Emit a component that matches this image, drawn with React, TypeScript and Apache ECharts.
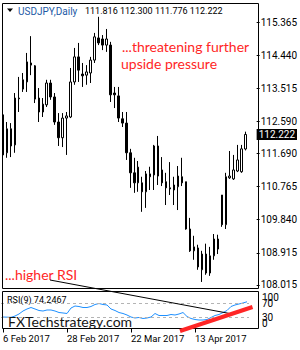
import React, { useEffect, useRef } from "react";
import * as echarts from "echarts";

const categories = [
  "6 Feb 2017", "7 Feb 2017", "8 Feb 2017", "9 Feb 2017", "10 Feb 2017",
  "13 Feb 2017", "14 Feb 2017", "15 Feb 2017", "16 Feb 2017", "17 Feb 2017",
  "20 Feb 2017", "21 Feb 2017", "22 Feb 2017", "23 Feb 2017", "24 Feb 2017",
  "27 Feb 2017", "28 Feb 2017",
  "1 Mar 2017", "2 Mar 2017", "3 Mar 2017", "6 Mar 2017", "7 Mar 2017",
  "8 Mar 2017", "9 Mar 2017", "10 Mar 2017", "13 Mar 2017", "14 Mar 2017",
  "15 Mar 2017", "16 Mar 2017", "17 Mar 2017", "20 Mar 2017", "21 Mar 2017",
  "22 Mar 2017", "23 Mar 2017", "24 Mar 2017", "27 Mar 2017", "28 Mar 2017",
  "29 Mar 2017", "30 Mar 2017", "31 Mar 2017",
  "3 Apr 2017", "4 Apr 2017", "5 Apr 2017", "6 Apr 2017", "7 Apr 2017",
  "10 Apr 2017", "11 Apr 2017", "12 Apr 2017", "13 Apr 2017", "14 Apr 2017",
  "17 Apr 2017", "18 Apr 2017", "19 Apr 2017", "20 Apr 2017", "21 Apr 2017",
  "24 Apr 2017", "25 Apr 2017", "26 Apr 2017", "27 Apr 2017", "28 Apr 2017",
  "1 May 2017", "2 May 2017",
];

const opens = [
  112.77, 111.71, 112.38, 111.93, 113.24, 113.49, 113.69, 114.22, 114.14, 113.24,
  112.85, 113.05, 113.66, 113.27, 112.57, 112.13, 112.68, 112.71, 113.69, 114.39,
  113.91, 113.88, 113.94, 114.3, 114.92, 114.89, 114.72, 114.72, 113.38, 113.3,
  112.66, 112.54, 111.71, 111.15, 110.87, 110.87, 110.62, 111.12, 111.09, 111.9,
  111.23, 110.9, 110.73, 110.67, 110.76, 111.04, 110.9, 109.58, 108.97, 109.05,
  108.44, 108.88, 108.35, 108.83, 109.3, 110.53, 109.7, 111.01, 110.98, 111.2,
  111.18, 111.816,
];
const highs = [
  112.82, 112.57, 112.54, 113.38, 113.83, 113.94, 114.5, 114.97, 114.16, 113.52,
  113.24, 113.75, 113.75, 113.38, 112.82, 112.82, 112.85, 114.08, 114.64, 114.78,
  114.22, 114.16, 114.39, 115.06, 115.51, 115.0, 115.17, 114.81, 113.55, 113.55,
  112.85, 112.85, 111.82, 111.57, 111.48, 111.04, 111.2, 111.32, 111.93, 112.18,
  111.59, 111.15, 111.45, 111.04, 111.34, 111.57, 110.9, 109.89, 109.39, 109.14,
  108.97, 109.17, 109.08, 109.44, 109.42, 110.53, 111.15, 111.76, 111.65, 111.93,
  111.93, 112.3,
];
const lows = [
  111.57, 111.57, 111.59, 111.71, 112.85, 113.41, 113.41, 113.88, 113.1, 112.57,
  112.71, 112.99, 113.19, 112.49, 111.9, 111.87, 111.65, 112.68, 113.61, 113.69,
  113.55, 113.61, 113.66, 114.22, 114.72, 114.58, 114.53, 113.13, 112.96, 112.57,
  112.43, 111.51, 110.73, 110.59, 110.62, 110.06, 110.17, 110.67, 110.67, 110.81,
  110.78, 110.25, 110.53, 110.25, 110.11, 110.78, 109.56, 108.94, 108.72, 108.44,
  108.1, 108.3, 108.27, 108.72, 108.88, 109.64, 109.58, 110.98, 110.95, 111.17,
  111.15, 111.776,
];
const closes = [
  111.65, 112.38, 111.9, 113.24, 113.22, 113.75, 114.25, 114.16, 113.21, 112.85,
  113.07, 113.66, 113.27, 112.57, 112.13, 112.68, 112.74, 113.69, 114.39, 114.02,
  113.86, 113.97, 114.3, 114.95, 114.78, 114.72, 114.89, 113.33, 113.33, 112.68,
  112.54, 111.71, 111.15, 110.87, 111.31, 110.62, 111.12, 111.04, 111.9, 111.06,
  110.87, 110.73, 110.7, 110.81, 111.06, 110.87, 109.58, 108.97, 109.08, 108.52,
  108.88, 108.35, 108.83, 109.3, 109.02, 109.7, 111.04, 111.06, 111.23, 111.51,
  111.82, 112.222,
];

const rsi = [
  31.9, 31.5, 31.0, 34.7, 40.3, 48.6, 54.2, 58.3, 54.2, 50.0,
  48.6, 51.4, 51.4, 48.6, 44.4, 43.1, 41.7, 56.9, 62.5, 61.1,
  58.3, 58.3, 61.1, 66.7, 69.4, 66.7, 65.3, 54.2, 50.0, 44.4,
  41.7, 37.5, 31.9, 29.2, 30.6, 27.8, 29.2, 31.9, 41.7, 36.1,
  36.1, 36.1, 38.9, 37.5, 40.3, 44.4, 33.3, 27.8, 25.0, 23.6,
  23.6, 25.0, 30.6, 36.1, 38.9, 44.4, 50.0, 61.1, 65.3, 68.1,
  70.8, 74.2467,
];

const priceTicks = [108.015, 108.915, 109.84, 110.765, 111.69, 112.59, 113.515, 114.44, 115.365];
const rsiEdgeTicks = [0, 100];
const rsiLevels = [30, 70];
const dateLabelIndices = [0, 16, 32, 48];

const symbolTitle = "USDJPY,Daily";
const rsiTitle = "RSI(9)";
const noteTop1 = "...threatening further";
const noteTop2 = "upside pressure";
const noteBottom = "...higher RSI";
const watermark = "FXTechstrategy.com";

const RED = "#ff2626";
const FONT = "Roboto, 'DejaVu Sans', sans-serif";

export default function App() {
  const ref = useRef<HTMLDivElement>(null);

  useEffect(() => {
    document.body.style.margin = "0";
    if (!ref.current) return;
    const chart = echarts.init(ref.current, undefined, { renderer: "svg" });
    const last = closes.length - 1;
    const ohlcText = [opens[last], highs[last], lows[last], closes[last]]
      .map((v) => v.toFixed(3))
      .join(" ");
    const showDate = (i: number) => dateLabelIndices.includes(i);
    const labelBase = { margin: 4, fontSize: 10, fontFamily: FONT, color: "#000" };

    const option: any = {
      animation: false,
      backgroundColor: "#ffffff",
      grid: [
        { left: 1, top: 3, width: 248, height: 285 },
        { left: 1, top: 292.5, width: 248, height: 36 },
      ],
      xAxis: [
        { type: "category", gridIndex: 0, data: categories, show: false, boundaryGap: true },
        {
          type: "category",
          gridIndex: 1,
          data: categories,
          boundaryGap: true,
          axisLine: { show: false },
          axisTick: {
            show: true,
            alignWithLabel: true,
            interval: (i: number) => showDate(i),
            length: 4,
            lineStyle: { color: "#000" },
          },
          axisLabel: {
            interval: (i: number) => showDate(i),
            align: "left",
            margin: 5,
            fontSize: 9.5,
            fontFamily: FONT,
            color: "#000",
          },
        },
      ],
      yAxis: [
        {
          type: "value",
          gridIndex: 0,
          position: "right",
          offset: 9,
          min: 107.931,
          max: 115.896,
          splitLine: { show: false },
          axisLine: { show: false },
          axisTick: { show: true, customValues: priceTicks, length: 3, lineStyle: { color: "#000" } },
          axisLabel: {
            ...labelBase,
            customValues: priceTicks,
            formatter: (v: number) => v.toFixed(3),
          },
        },
        {
          type: "value",
          gridIndex: 1,
          position: "right",
          offset: 9,
          min: 0,
          max: 100,
          splitLine: { show: false },
          axisLine: { show: false },
          axisTick: { show: false },
          axisLabel: { ...labelBase, customValues: rsiLevels },
        },
        {
          type: "value",
          gridIndex: 1,
          position: "right",
          offset: 9,
          min: 0,
          max: 100,
          splitLine: { show: false },
          axisLine: { show: false },
          axisTick: { show: false },
          axisLabel: {
            ...labelBase,
            customValues: rsiEdgeTicks,
            showMinLabel: true,
            showMaxLabel: true,
            formatter: (v: number) => (v === 100 ? "{t|100}" : "{b|0}"),
            rich: {
              t: { padding: [10, 0, 0, 0], fontSize: 10, fontFamily: FONT, color: "#000" },
              b: { padding: [0, 0, 11, 0], fontSize: 10, fontFamily: FONT, color: "#000" },
            },
          },
        },
      ],
      series: [
        {
          type: "candlestick",
          xAxisIndex: 0,
          yAxisIndex: 0,
          barWidth: 2,
          data: opens.map((o, i) => [o, closes[i], lows[i], highs[i]]),
          itemStyle: {
            color: "#ffffff",
            color0: "#000000",
            borderColor: "#000000",
            borderColor0: "#000000",
            borderWidth: 1,
          },
          markLine: {
            silent: true,
            symbol: "none",
            data: [{ yAxis: closes[last] }],
            lineStyle: { color: "rgba(0,0,0,0)", width: 0 },
            label: {
              show: true,
              position: "end",
              distance: 9,
              formatter: closes[last].toFixed(3),
              backgroundColor: "#000",
              color: "#fff",
              padding: [1, 2, 0, 2],
              fontSize: 10,
              fontFamily: FONT,
            },
          },
        },
        {
          type: "line",
          xAxisIndex: 1,
          yAxisIndex: 1,
          data: rsi,
          symbol: "none",
          lineStyle: { color: "#1e90ff", width: 1 },
          markLine: {
            silent: true,
            symbol: "none",
            label: { show: false },
            lineStyle: { color: "#b4b4b4", type: [3, 3], width: 1 },
            data: rsiLevels.map((v) => ({ yAxis: v })),
          },
        },
      ],
      graphic: [
        {
          type: "rect",
          z: 10,
          shape: { x: 2.5, y: 3.5, width: 256, height: 285 },
          style: { fill: "none", stroke: "#000", lineWidth: 1 },
        },
        {
          type: "rect",
          z: 10,
          shape: { x: 2.5, y: 291.5, width: 256, height: 37 },
          style: { fill: "none", stroke: "#000", lineWidth: 1 },
        },
        {
          type: "polygon",
          z: 10,
          shape: { points: [[7, 8.5], [13, 8.5], [10, 12]] },
          style: { fill: "#000" },
        },
        {
          type: "text",
          z: 10,
          x: 18,
          y: 11,
          style: { text: symbolTitle, fill: "#1d5aa6", font: `10px ${FONT}`, verticalAlign: "middle" },
        },
        {
          type: "text",
          z: 10,
          x: 85,
          y: 11,
          style: { text: ohlcText, fill: "#000", font: `9px ${FONT}`, verticalAlign: "middle" },
        },
        {
          type: "text",
          z: 10,
          x: 122,
          y: 46,
          style: { text: noteTop1, fill: RED, font: "14px Lato, sans-serif", verticalAlign: "middle" },
        },
        {
          type: "text",
          z: 10,
          x: 121,
          y: 63,
          style: { text: noteTop2, fill: RED, font: "14px Lato, sans-serif", verticalAlign: "middle" },
        },
        {
          type: "text",
          z: 10,
          x: 5,
          y: 274,
          style: { text: noteBottom, fill: RED, font: "14px Lato, sans-serif", verticalAlign: "middle" },
        },
        {
          type: "text",
          z: 10,
          x: 7,
          y: 300,
          style: {
            text: `${rsiTitle} ${rsi[last].toFixed(4)}`,
            fill: "#000",
            font: `9px ${FONT}`,
            verticalAlign: "middle",
          },
        },
        {
          type: "text",
          z: 10,
          x: 8,
          y: 321,
          style: { text: watermark, fill: "#141414", font: "14px Lato, sans-serif", verticalAlign: "middle" },
        },
        {
          type: "line",
          z: 20,
          shape: { x1: 50, y1: 280, x2: 235, y2: 314.5 },
          style: { stroke: "#000", lineWidth: 1 },
        },
        {
          type: "line",
          z: 20,
          shape: { x1: 180, y1: 331, x2: 252.5, y2: 307 },
          style: { stroke: RED, lineWidth: 4 },
        },
      ],
    };

    chart.setOption(option);
    return () => chart.dispose();
  }, []);

  return (
    <div
      ref={ref}
      style={{ position: "fixed", left: 0, top: 0, width: 300, height: 350, background: "#fff" }}
    />
  );
}
